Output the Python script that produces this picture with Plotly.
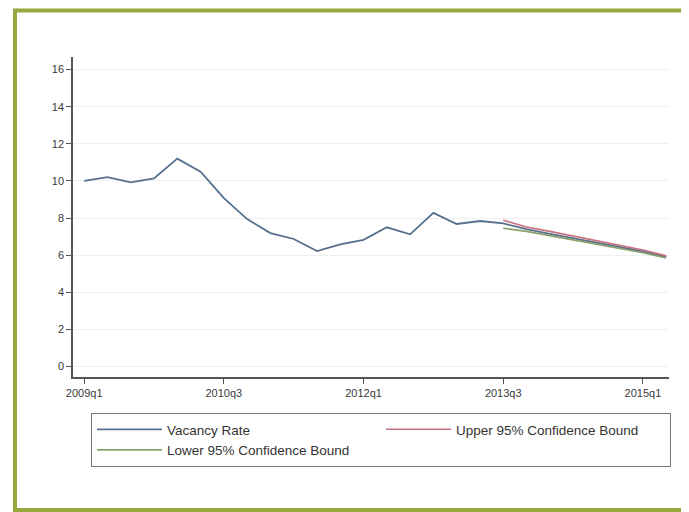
import plotly.graph_objects as go

quarters = ["2009q1","2009q2","2009q3","2009q4","2010q1","2010q2","2010q3","2010q4",
            "2011q1","2011q2","2011q3","2011q4","2012q1","2012q2","2012q3","2012q4",
            "2013q1","2013q2","2013q3","2013q4","2014q1","2014q2","2014q3","2014q4",
            "2015q1","2015q2"]
vacancy = [10.0, 10.2, 9.92, 10.13, 11.2, 10.5, 9.07, 7.94, 7.19, 6.87, 6.22, 6.58,
           6.82, 7.5, 7.12, 8.28, 7.68, 7.84, 7.71, 7.40, 7.15, 6.92, 6.68, 6.45, 6.20, 5.90]
fc_quarters = quarters[18:]
upper = [7.88, 7.52, 7.28, 7.02, 6.78, 6.53, 6.28, 5.96]
lower = [7.45, 7.28, 7.05, 6.82, 6.60, 6.38, 6.13, 5.84]
x_ticks = ["2009q1", "2010q3", "2012q1", "2013q3", "2015q1"]
y_ticks = [0, 2, 4, 6, 8, 10, 12, 14, 16]

# the page body has an 8px margin; the figure is sized so it fills the 689x512 window
OFF = 8
W, H = 689 - OFF, 512 - OFF
L, R, T, B = 73, 669, 57, 377          # plot area in window pixels
pw, ph = R - L, B - T
def px(x): return (x - L) / pw
def py(y): return (B - y) / ph

fig = go.Figure()
fig.add_trace(go.Scatter(x=quarters, y=vacancy, mode="lines", name="Vacancy Rate",
                         line=dict(color="#56708c", width=1.8)))
fig.add_trace(go.Scatter(x=fc_quarters, y=upper, mode="lines", name="Upper 95% Confidence Bound",
                         line=dict(color="#c8707e", width=1.6)))
fig.add_trace(go.Scatter(x=fc_quarters, y=lower, mode="lines", name="Lower 95% Confidence Bound",
                         line=dict(color="#8aa06a", width=1.6)))

font = dict(family="Liberation Sans, Arial, sans-serif", size=11, color="#3a3a3a")

fig.update_layout(
    width=W, height=H,
    margin=dict(l=L - OFF, r=689 - R, t=T - OFF, b=512 - B, pad=0),
    paper_bgcolor="white", plot_bgcolor="white",
    font=font,
    showlegend=True,
    legend=dict(orientation="h", x=px(91), y=py(413), xanchor="left", yanchor="top",
                entrywidth=209, entrywidthmode="pixels",
                bordercolor="#777777", borderwidth=1, bgcolor="white",
                font=dict(family="Liberation Sans, Arial, sans-serif", size=13.5, color="#333333"),
                itemwidth=65, tracegroupgap=0),
    xaxis=dict(type="category", categoryorder="array", categoryarray=quarters,
               range=[-0.48, 25.12], tickmode="array", tickvals=x_ticks, ticktext=x_ticks,
               showgrid=False, showline=True, linecolor="#555555", linewidth=1.5,
               ticks="outside", ticklen=5, tickcolor="#555555", zeroline=False),
    yaxis=dict(range=[-0.57, 16.68], tickmode="array", tickvals=y_ticks,
               showgrid=True, gridcolor="#eef0f0", gridwidth=1,
               showline=True, linecolor="#555555", linewidth=1.5,
               ticks="outside", ticklen=5, tickcolor="#555555", zeroline=False),
    shapes=[dict(type="rect", xref="paper", yref="paper",
                 x0=px(15), x1=px(720), y0=py(10.5), y1=py(510),
                 line=dict(color="#96a83e", width=4), fillcolor="rgba(0,0,0,0)", layer="above")],
)

fig.write_html("out.html")
